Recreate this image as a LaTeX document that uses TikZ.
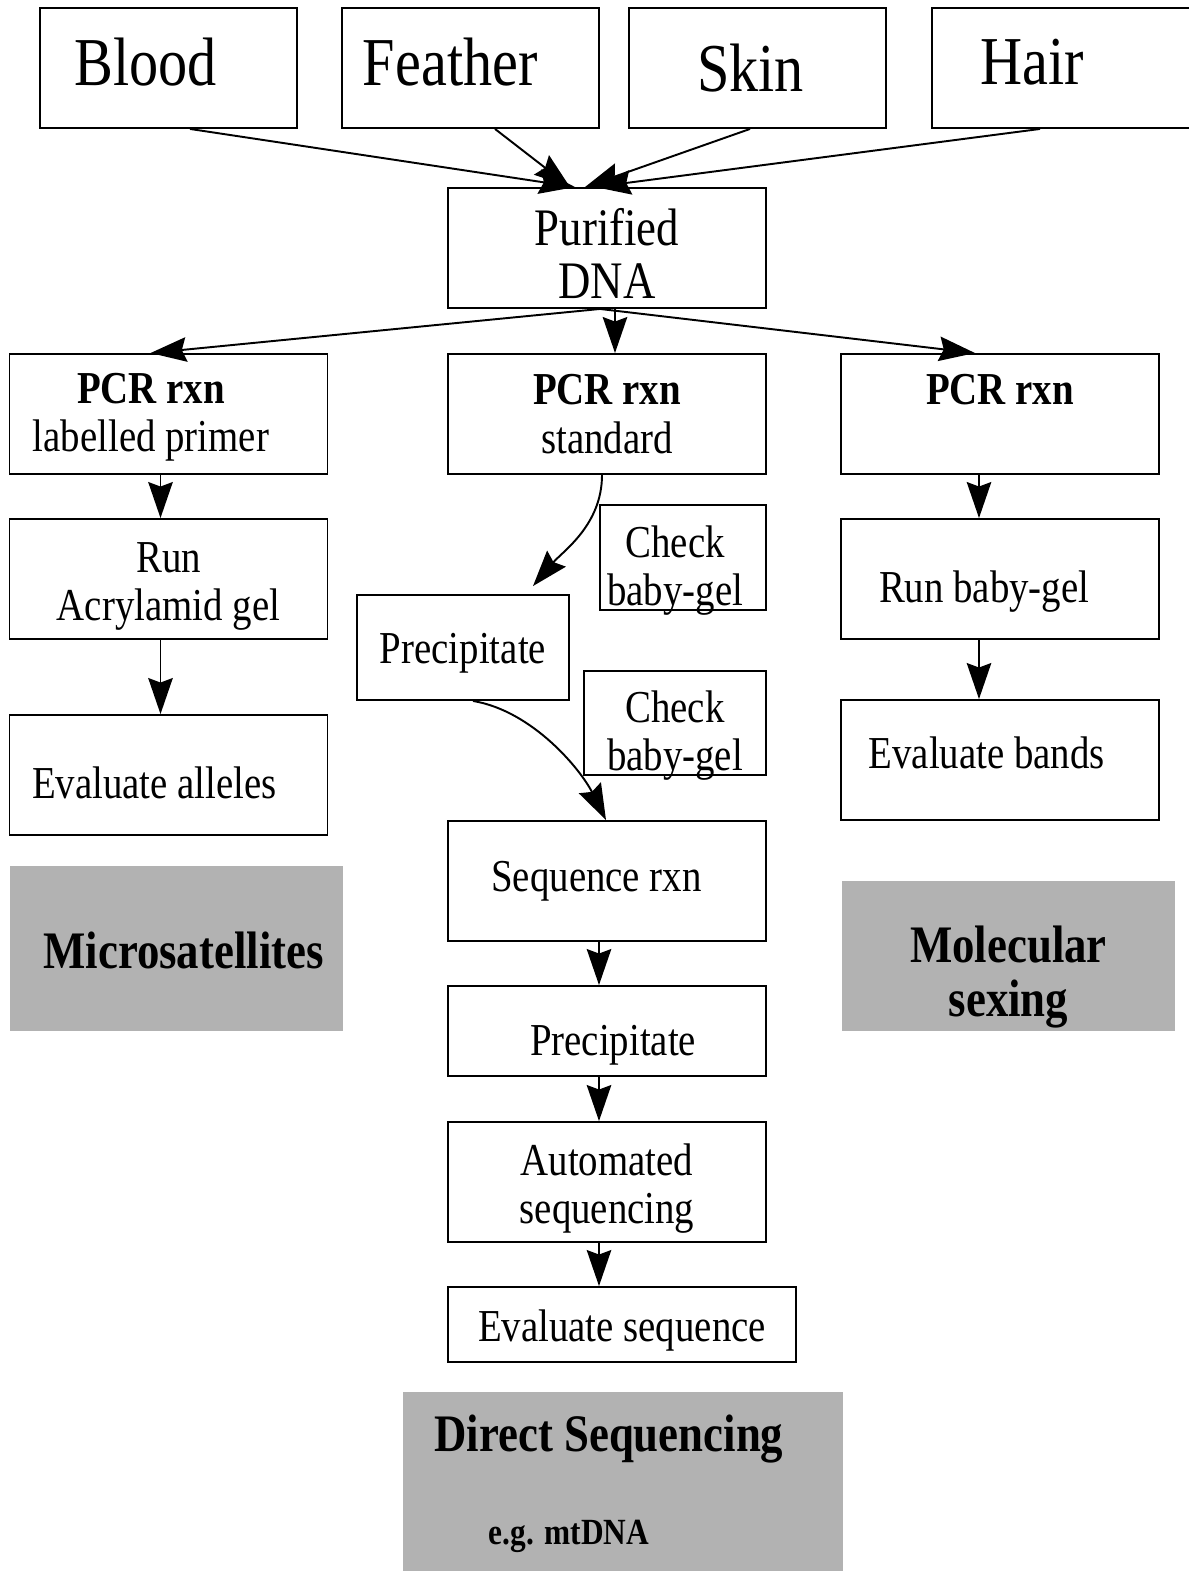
\documentclass[tikz,border=0pt]{standalone}
\usepackage{fontspec}
\setmainfont{Liberation Serif}[FakeStretch=0.85]
\usepackage{tikz}
\usetikzlibrary{arrows.meta}
\definecolor{box-gray}{HTML}{B2B2B2}

% move a node text down / up inside its box
\newcommand{\dropby}[1]{\rule{0pt}{\dimexpr 0.683em+#1\relax}}
\newcommand{\liftby}[1]{\rule[-#1]{0pt}{0pt}}
\newcommand{\nodepth}[1]{\raisebox{0pt}[\height][0pt]{#1}}

\tikzset{
  box/.style={draw, line width=1.1pt, inner sep=0pt, align=center, minimum height=2.4cm,
    font=\fontsize{26}{27.5}\selectfont},
  srcbox/.style={box, minimum width=5.14cm, font=\fontsize{39}{44}\selectfont},
  widebox/.style={box, minimum width=6.36cm},
  graybox/.style={fill=box-gray, inner sep=0pt, align=center,
    font=\fontsize{30}{30.6}\selectfont\bfseries},
  arr/.style={-{Stealth[length=7.2mm, width=4.9mm, inset=0.9mm]}, line width=1.1pt},
}

\begin{document}
\begin{tikzpicture}[x=0.02cm, y=-0.02cm]
        \useasboundingbox (0,0) rectangle (1188,1571);

        % samples
        \node[srcbox] (blood) at (168.5,68) {Blood\hspace*{26pt}\liftby{6.8pt}};
        \node[srcbox] (feather) at (470.5,68) {Feather\hspace*{23pt}\liftby{6.8pt}};
        \node[srcbox] (skin) at (757.5,68) {Skin\hspace*{8pt}};
        \node[srcbox, minimum width=5.36cm] (hair) at (1066,68) {Hair\hspace*{38pt}\liftby{6.8pt}};

        \node[widebox, font=\fontsize{30}{30.6}\selectfont] (dna) at (607,248) {\dropby{6.8pt}Purified\\DNA};

        % microsatellites
        \node[widebox] (pcrl) at (168.5,414) {\dropby{3pt}\textbf{PCR rxn}\hspace*{20pt}\\labelled primer\hspace*{20pt}};
        \node[widebox] (runl) at (168.5,579) {\dropby{7.9pt}Run\\Acrylamid gel};
        \node[widebox] (evall) at (168.5,775) {\dropby{9pt}Evaluate alleles\hspace*{16pt}};
        \node[graybox, minimum width=6.66cm, minimum height=3.3cm] (micro) at (176.5,948.5) {\hspace*{8pt}\dropby{3pt}Microsatellites};

        % direct sequencing
        \node[widebox] (pcrm) at (607,414) {\textbf{PCR rxn}\\standard};
        \node[box, minimum width=3.32cm, minimum height=2.1cm] (chk1) at (683,557.5) {\dropby{9.2pt}Check\hspace*{9pt}\\\nodepth{baby-gel}\hspace*{9pt}};
        \node[box, minimum width=4.24cm, minimum height=2.1cm] (prec1) at (463,647.5) {\dropby{5.7pt}Precipitate};
        \node[box, minimum width=3.64cm, minimum height=2.08cm] (chk2) at (675,723) {\dropby{9.2pt}Check\\\nodepth{baby-gel}};
        \node[widebox] (seqrxn) at (607,881) {Sequence rxn\hspace*{12pt}};
        \node[widebox, minimum height=1.8cm] (prec2) at (607,1031) {\hspace*{7pt}\dropby{15.9pt}Precipitate};
        \node[widebox] (autoseq) at (607,1182) {\dropby{7.9pt}Automated\\sequencing};
        \node[box, minimum width=6.96cm, minimum height=1.5cm] (evalseq) at (622,1324.5) {\dropby{6.8pt}Evaluate sequence};
        \node[graybox, align=left, minimum width=8.8cm, minimum height=3.66cm,
          font=\fontsize{30}{53}\selectfont\bfseries] (dseq) at (623,1483.5)
          {Direct Sequencing\hspace*{16pt}\\\hspace*{31pt}{\fontsize{21}{23}\selectfont e.g. mtDNA}};

        % molecular sexing
        \node[widebox] (pcrr) at (1000,414) {\dropby{6.8pt}\textbf{PCR rxn}\\\strut};
        \node[widebox] (runr) at (1000,579) {\dropby{14.7pt}Run baby-gel\hspace*{18pt}};
        \node[widebox] (evalr) at (1000,760) {Evaluate bands\hspace*{15pt}\liftby{7.9pt}};
        \node[graybox, minimum width=6.66cm, minimum height=3cm] (molsex) at (1008.5,956) {\rule{0pt}{44.8pt}Molecular\\sexing};

        \draw[arr] ([shift={(21.5,0)}]blood.south) -- ([shift={(-32,0)}]dna.north);
        \draw[arr] ([shift={(24.5,0)}]feather.south) -- ([shift={(-37,0)}]dna.north);
        \draw[arr] ([shift={(-7.5,0)}]skin.south) -- ([shift={(-22,0)}]dna.north);
        \draw[arr] ([shift={(-26,0)}]hair.south) -- ([shift={(-12,0)}]dna.north);

        \draw[arr] ([shift={(-7,0)}]dna.south) -- ([shift={(-18,0)}]pcrl.north);
        \draw[arr] ([shift={(8,0)}]dna.south) -- ([shift={(8,0)}]pcrm.north);
        \draw[arr] ([shift={(-7,0)}]dna.south) -- ([shift={(-25,0)}]pcrr.north);

        \draw[arr] ([shift={(-8,0)}]pcrl.south) -- ([shift={(-8,0)}]runl.north);
        \draw[arr] ([shift={(-8,0)}]runl.south) -- ([shift={(-8,0)}]evall.north);

        \draw[arr] ([shift={(-5,0)}]pcrm.south) .. controls +(0,50) and +(30,-35) .. ([shift={(70,-8)}]prec1.north);
        \draw[arr] ([shift={(10,0)}]prec1.south) .. controls +(60,10) and +(-25,-50) .. ([shift={(-1,0)}]seqrxn.north);
        \draw[arr] ([shift={(-8,0)}]seqrxn.south) -- ([shift={(-8,0)}]prec2.north);
        \draw[arr] ([shift={(-8,0)}]prec2.south) -- ([shift={(-8,0)}]autoseq.north);
        \draw[arr] ([shift={(-8,0)}]autoseq.south) -- ([shift={(-23,0)}]evalseq.north);

        \draw[arr] ([shift={(-21,0)}]pcrr.south) -- ([shift={(-21,0)}]runr.north);
        \draw[arr] ([shift={(-21,0)}]runr.south) -- ([shift={(-21,0)}]evalr.north);
\end{tikzpicture}
\end{document}
